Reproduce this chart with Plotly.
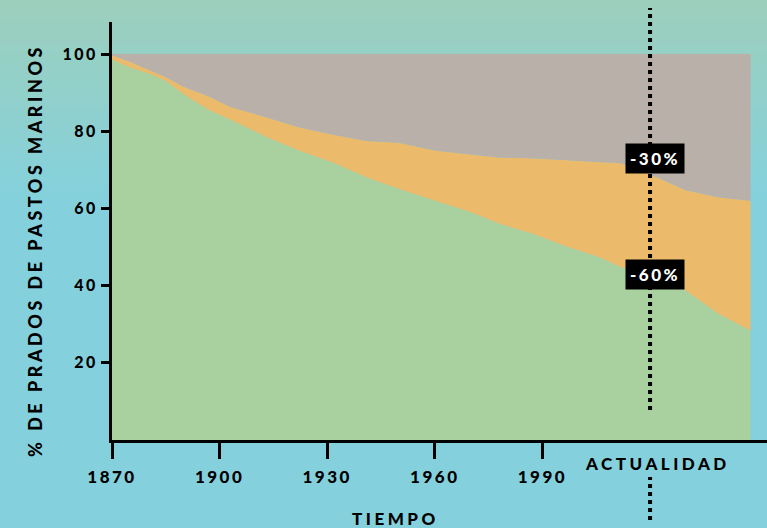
import plotly.graph_objects as go

# ---- data ----
years = [1870, 1875, 1880, 1885, 1890, 1897, 1903, 1913, 1922, 1932, 1941, 1950,
         1960, 1970, 1978, 1987, 1997, 2006, 2012, 2022, 2030, 2039, 2048]
seagrass = [98.5, 96.5, 95, 93, 89.5, 85.5, 83, 78.5, 75, 71.7, 68, 65,
            62, 59, 56, 53.5, 50, 47.3, 44.7, 42, 38.7, 32.7, 28.3]
upper_line = [99.7, 98, 96, 94, 91.5, 89, 86.3, 83.6, 81, 79, 77.5, 77,
              75, 74, 73.2, 73, 72.5, 72, 71.7, 68, 64.7, 62.9, 62]
x_ticks = [1870, 1900, 1930, 1960, 1990]
y_ticks = [20, 40, 60, 80, 100]
now_year = 2020
labels = ["-30%", "-60%"]
label_y = [73, 43]

orange = [u - s for u, s in zip(upper_line, seagrass)]
gray = [100 - u for u in upper_line]

FONT = "Lato"
W = 900

def spaced(t, sp=2):
    return f'<span style="letter-spacing:{sp}px">{t}</span>'

fig = go.Figure()
fig.add_trace(go.Scatter(x=years, y=seagrass, stackgroup="a", mode="none",
                         fillcolor="#a9d1a0", hoverinfo="skip"))
fig.add_trace(go.Scatter(x=years, y=orange, stackgroup="a", mode="none",
                         fillcolor="#ecba6b", hoverinfo="skip"))
fig.add_trace(go.Scatter(x=years, y=gray, stackgroup="a", mode="none",
                         fillcolor="#b8b0a9", hoverinfo="skip"))

# background gradient (bands in paper coords)
shapes = []
top_c = (157, 207, 187)
bot_c = (132, 209, 221)
H = 418.0  # plot height in px
n = 30
for i in range(n):
    y0px = i * 200.0 / n
    y1px = (i + 1) * 200.0 / n
    t = (i + 0.5) / n
    c = tuple(int(round(top_c[k] + (bot_c[k] - top_c[k]) * t)) for k in range(3))
    shapes.append(dict(type="rect", xref="paper", yref="paper", layer="below",
                       x0=-0.3, x1=1.1, y0=(440 - y1px) / H, y1=(440 - y0px) / H + 0.002,
                       fillcolor="rgb(%d,%d,%d)" % c, line=dict(width=0)))

# dotted "actualidad" line
for y0, y1 in [((440 - 410) / H, (440 - 8) / H), ((440 - 520) / H, (440 - 477) / H)]:
    shapes.append(dict(type="line", xref="x", yref="paper", x0=now_year, x1=now_year,
                       y0=y0, y1=y1, layer="above",
                       line=dict(color="black", width=4, dash="4px,4px")))

annotations = []
for t, yy in zip(labels, label_y):
    annotations.append(dict(x=now_year + 1.5, y=yy, xref="x", yref="y", showarrow=False,
                            xanchor="center", yanchor="middle",
                            text=spaced(t, 2.5), bgcolor="black", borderpad=4,
                            font=dict(family=FONT, size=17, color="white", weight=W)))
annotations.append(dict(x=now_year + 2, y=(440 - 463) / H, xref="x", yref="paper",
                        showarrow=False, xanchor="center", yanchor="middle",
                        text=spaced("ACTUALIDAD", 3.5),
                        font=dict(family=FONT, size=17, color="black", weight=W)))
annotations.append(dict(x=(395 - 112) / 655.0, y=(440 - 518) / H, xref="paper", yref="paper",
                        showarrow=False, xanchor="center", yanchor="middle",
                        text=spaced("TIEMPO", 3.5),
                        font=dict(family=FONT, size=17, color="black", weight=W)))
annotations.append(dict(x=(35 - 112) / 655.0, y=(440 - 251) / H, xref="paper", yref="paper",
                        showarrow=False, xanchor="center", yanchor="middle", textangle=-90,
                        text=spaced("% DE PRADOS DE PASTOS MARINOS", 3.5),
                        font=dict(family=FONT, size=18, color="black", weight=W)))

fig.update_layout(
    width=767, height=528,
    margin=dict(l=112, r=0, t=22, b=88),
    paper_bgcolor="#84d1dd", plot_bgcolor="rgba(0,0,0,0)",
    showlegend=False,
    shapes=shapes, annotations=annotations,
    xaxis=dict(range=[1870, 2052.6], tickvals=x_ticks,
               ticktext=[spaced(str(v), 2.5) for v in x_ticks],
               showgrid=False, zeroline=False, showline=True, linecolor="black", linewidth=3,
               ticks="outside", ticklen=16, tickwidth=3, tickcolor="black",
               ticklabelstandoff=4,
               tickfont=dict(family=FONT, size=17, color="black", weight=W)),
    yaxis=dict(range=[0, 108.3], tickvals=y_ticks,
               ticktext=[spaced(str(v), 2.5) for v in y_ticks],
               showgrid=False, zeroline=False, showline=True, linecolor="black", linewidth=3,
               ticks="outside", ticklen=8, tickwidth=3, tickcolor="black",
               tickfont=dict(family=FONT, size=16, color="black", weight=W)),
)

fig.write_html("out.html", config={"displayModeBar": False},
               post_script="document.body.style.margin='0';document.body.style.padding='0';")
